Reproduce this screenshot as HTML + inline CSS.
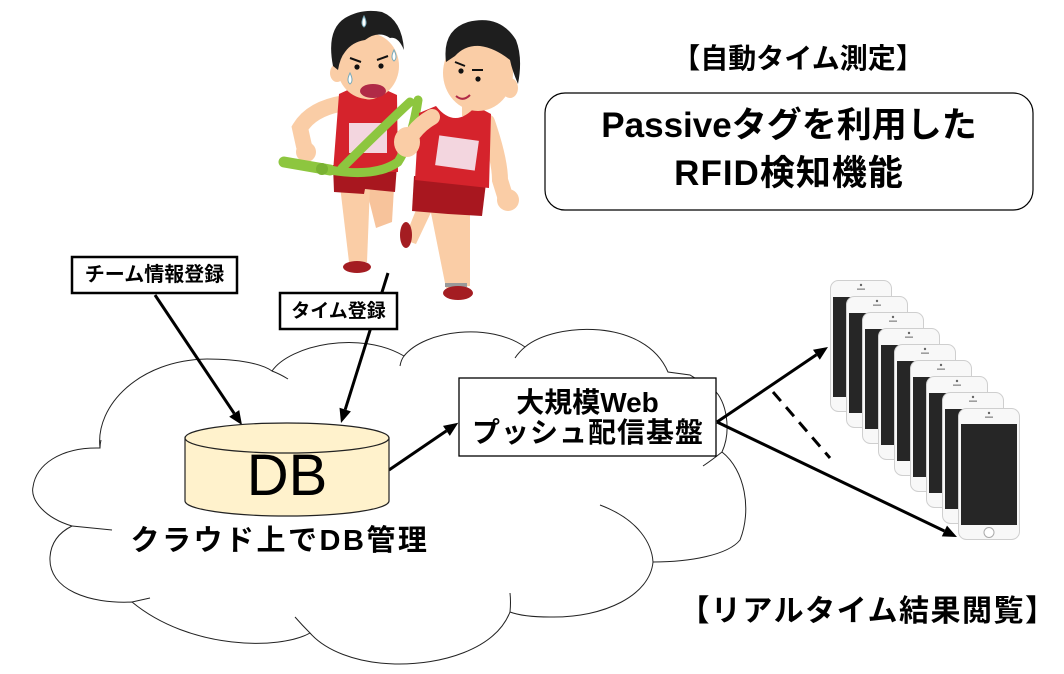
<!DOCTYPE html>
<html><head><meta charset="utf-8"><style>
html,body{margin:0;padding:0;background:#fff;}
svg{display:block;}
text{font-family:"Liberation Sans","Noto Sans CJK JP",sans-serif;font-weight:700;fill:#000;}
</style></head><body>
<svg width="1064" height="674" viewBox="0 0 1064 674" xmlns="http://www.w3.org/2000/svg">
<rect width="1064" height="674" fill="#fff"/>

<!-- Cloud -->
<path d="M100,448 C95,405 140,360 207,359 C240,359 262,364 272,371 C290,345 360,330 404,356 C425,330 490,322 525,347 C555,322 645,318 668,372 L690,375 L714,390 C726,400 732,430 722,452 C745,470 752,510 740,540 C728,555 690,562 653,562 C650,595 605,618 550,617 C532,617 518,615 510,612 C495,650 440,665 395,664 C355,663 325,650 310,633 C280,650 190,650 132,602 C90,604 48,590 50,557 C51,542 60,532 72,526 C45,518 30,500 33,487 C36,465 60,447 100,448 Z" fill="#fff" stroke="#222" stroke-width="1"/>
<g fill="none" stroke="#222" stroke-width="1">
<path d="M272,371 Q280,374 288,379"/>
<path d="M404,356 Q401,360 400,366"/>
<path d="M525,347 Q519,352 515,358"/>
<path d="M72,526 Q92,528 112,530"/>
<path d="M132,602 Q141,600 150,598"/>
<path d="M310,633 Q302,625 295,617"/>
<path d="M510,612 Q511,602 510,593"/>
<path d="M653,562 C652,545 640,520 600,505"/>
<path d="M722,452 Q712,460 703,466"/>
<path d="M100,448 Q100,444 101,440"/>
</g>

<!-- Runners illustration -->
<g>
<!-- left runner -->
<path d="M366,188 L394,188 L392,222 L376,228 Z" fill="#F7C39B"/>
<path d="M340,186 L370,186 L367,262 L349,262 Z" fill="#FACDA6"/>
<ellipse cx="357" cy="267" rx="14" ry="6" fill="#A41D22"/>
<path d="M333,165 L397,165 L395,192 L365,189 L364,194 L334,192 Z" fill="#A8171F"/>
<path d="M345,103 Q312,108 300,128 L304,146" stroke="#FACDA6" stroke-width="16" fill="none" stroke-linecap="round"/>
<circle cx="306" cy="152" r="10" fill="#FACDA6"/>
<rect x="358" y="88" width="20" height="14" fill="#FACDA6"/>
<path d="M339,94 L352,88 Q368,110 386,90 L397,95 L398,172 L333,172 Z" fill="#D5232C"/>
<rect x="349" y="123" width="38" height="30" fill="#F3D6DF"/>
<ellipse cx="337" cy="73" rx="7" ry="9" fill="#FACDA6"/>
<ellipse cx="368" cy="66" rx="31" ry="33" fill="#FACDA6"/>
<path d="M333,66 Q326,30 345,18 Q362,8 382,12 Q402,20 404,50 Q398,36 390,38 Q378,30 365,40 Q352,42 345,52 Q340,58 338,70 Z" fill="#1E1E1E"/>
<circle cx="357" cy="67" r="2.6" fill="#111"/>
<circle cx="381" cy="66" r="2.6" fill="#111"/>
<path d="M350,58 L361,62 M377,60 L388,56" stroke="#111" stroke-width="2"/>
<ellipse cx="373" cy="91" rx="13" ry="7" fill="#B02A47"/>
<path d="M364,16 Q360,24 364,27 Q368,24 364,16 Z" fill="#fff" stroke="#7ab" stroke-width="1"/>
<path d="M394,50 Q390,58 394,61 Q398,58 394,50 Z" fill="#fff" stroke="#7ab" stroke-width="1"/>
<path d="M350,73 Q346,81 350,84 Q354,81 350,73 Z" fill="#fff" stroke="#7ab" stroke-width="1"/>

<!-- green sash -->
<path d="M284,162 L330,170" stroke="#8DC63F" stroke-width="11" fill="none" stroke-linecap="round"/>
<path d="M330,170 Q375,178 398,162 Q412,140 418,100" stroke="#8DC63F" stroke-width="9" fill="none" stroke-linecap="round"/>
<path d="M342,168 Q380,130 410,102" stroke="#8DC63F" stroke-width="9" fill="none" stroke-linecap="round"/>
<circle cx="322" cy="169" r="6" fill="#79B232"/>

<!-- right runner -->
<path d="M420,200 L434,206 L416,244 L404,240 Z" fill="#FACDA6"/>
<ellipse cx="406" cy="235" rx="6" ry="13" fill="#A41D22"/>
<path d="M430,208 L470,208 L470,286 L446,288 Z" fill="#FACDA6"/>
<rect x="445" y="283" width="22" height="4" fill="#999"/>
<ellipse cx="458" cy="293" rx="15" ry="7" fill="#A41D22"/>
<path d="M414,176 L486,183 L482,216 L448,214 L412,211 Z" fill="#A8171F"/>
<path d="M487,122 Q500,160 500,180 L505,196" stroke="#FACDA6" stroke-width="16" fill="none" stroke-linecap="round"/>
<circle cx="508" cy="200" r="11" fill="#FACDA6"/>
<rect x="462" y="102" width="20" height="14" fill="#FACDA6"/>
<path d="M419,113 L436,106 Q455,130 476,106 L491,114 L489,188 L415,180 Z" fill="#D5232C"/>
<rect x="437" y="138" width="40" height="30" fill="#F3D6DF" transform="rotate(8 457 153)"/>
<ellipse cx="510" cy="88" rx="8" ry="10" fill="#FACDA6"/>
<ellipse cx="478" cy="73" rx="35" ry="38" fill="#FACDA6"/>
<path d="M446,62 Q442,30 468,22 Q500,14 516,40 Q523,58 518,84 Q512,70 510,60 Q495,48 480,46 Q465,45 455,56 Z" fill="#1E1E1E"/>
<circle cx="461" cy="71" r="2.6" fill="#111"/>
<circle cx="478" cy="79" r="2.6" fill="#111"/>
<path d="M455,62 L465,66 M472,70 L483,70" stroke="#111" stroke-width="2"/>
<path d="M456,96 Q463,102 470,95" stroke="#B02A47" stroke-width="2" fill="none"/>
<path d="M432,117 Q418,125 410,138" stroke="#FACDA6" stroke-width="16" fill="none" stroke-linecap="round"/>
<ellipse cx="407" cy="142" rx="13" ry="15" fill="#FACDA6"/>
</g>

<!-- Arrows -->
<g stroke="#000" stroke-width="3" fill="none">
<line x1="155" y1="295" x2="234.2" y2="413.4"/>
<line x1="388" y1="273" x2="345.2" y2="409.6"/>
<line x1="389" y1="470" x2="446.4" y2="430.9"/>
<line x1="717" y1="422" x2="816.4" y2="354.8"/>
<line x1="717" y1="422" x2="944.4" y2="531.0"/>
</g>
<g fill="#000">
<polygon points="242,425 229.2,416.7 239.2,410.1"/>
<polygon points="341,423 339.5,407.8 350.9,411.4"/>
<polygon points="458.3,422.7 449.8,435.9 443.0,425.9"/>
<polygon points="828,347 819.8,359.8 813.0,349.8"/>
<polygon points="957,537 941.8,536.4 947.0,525.6"/>
</g>
<line x1="773" y1="392" x2="830" y2="458" stroke="#000" stroke-width="3" stroke-dasharray="12,8"/>

<!-- Label boxes -->
<rect x="72" y="257" width="165" height="36" fill="#fff" stroke="#000" stroke-width="2.5"/>
<text x="154.5" y="281" font-size="20" text-anchor="middle">チーム情報登録</text>
<rect x="280" y="293" width="117" height="36" fill="#fff" stroke="#000" stroke-width="2.5"/>
<text x="338.5" y="317" font-size="19" text-anchor="middle">タイム登録</text>

<!-- DB cylinder -->
<path d="M185,438 L185,501 A102,15 0 0 0 389,501 L389,438 Z" fill="#FFF2CC" stroke="#222" stroke-width="1.2"/>
<ellipse cx="287" cy="438" rx="102" ry="15" fill="#FFF2CC" stroke="#222" stroke-width="1.2"/>
<text x="287" y="495" font-size="58" text-anchor="middle" style="font-weight:400">DB</text>
<text x="280" y="550" font-size="29" text-anchor="middle" style="letter-spacing:2.5px">クラウド上でDB管理</text>

<!-- Web push box -->
<rect x="459" y="378" width="257" height="78" fill="#fff" stroke="#000" stroke-width="1.3"/>
<text x="587.5" y="412" font-size="28" text-anchor="middle">大規模Web</text>
<text x="588" y="442" font-size="28" text-anchor="middle" style="letter-spacing:1px">プッシュ配信基盤</text>

<!-- Top right -->
<text x="798" y="68" font-size="28" text-anchor="middle">【自動タイム測定】</text>
<rect x="545" y="93" width="488" height="117" rx="20" ry="20" fill="#fff" stroke="#000" stroke-width="1.2"/>
<text x="789" y="137" font-size="35" text-anchor="middle">Passiveタグを利用した</text>
<text x="789" y="185" font-size="35" text-anchor="middle" style="letter-spacing:1px">RFID検知機能</text>

<!-- Phones -->
<g>
<g transform="translate(830,280)"><rect x="0.5" y="0.5" width="61" height="131" rx="8" fill="#f8f8f8" stroke="#cfcfcf"/><rect x="3" y="17" width="56" height="100" fill="#262626"/><circle cx="31" cy="5" r="1.2" fill="#666"/><rect x="27" y="8.5" width="8" height="1.3" fill="#888"/></g>
<g transform="translate(846,296)"><rect x="0.5" y="0.5" width="61" height="131" rx="8" fill="#f8f8f8" stroke="#cfcfcf"/><rect x="3" y="17" width="56" height="100" fill="#262626"/><circle cx="31" cy="5" r="1.2" fill="#666"/><rect x="27" y="8.5" width="8" height="1.3" fill="#888"/></g>
<g transform="translate(862,312)"><rect x="0.5" y="0.5" width="61" height="131" rx="8" fill="#f8f8f8" stroke="#cfcfcf"/><rect x="3" y="17" width="56" height="100" fill="#262626"/><circle cx="31" cy="5" r="1.2" fill="#666"/><rect x="27" y="8.5" width="8" height="1.3" fill="#888"/></g>
<g transform="translate(878,328)"><rect x="0.5" y="0.5" width="61" height="131" rx="8" fill="#f8f8f8" stroke="#cfcfcf"/><rect x="3" y="17" width="56" height="100" fill="#262626"/><circle cx="31" cy="5" r="1.2" fill="#666"/><rect x="27" y="8.5" width="8" height="1.3" fill="#888"/></g>
<g transform="translate(894,344)"><rect x="0.5" y="0.5" width="61" height="131" rx="8" fill="#f8f8f8" stroke="#cfcfcf"/><rect x="3" y="17" width="56" height="100" fill="#262626"/><circle cx="31" cy="5" r="1.2" fill="#666"/><rect x="27" y="8.5" width="8" height="1.3" fill="#888"/></g>
<g transform="translate(910,360)"><rect x="0.5" y="0.5" width="61" height="131" rx="8" fill="#f8f8f8" stroke="#cfcfcf"/><rect x="3" y="17" width="56" height="100" fill="#262626"/><circle cx="31" cy="5" r="1.2" fill="#666"/><rect x="27" y="8.5" width="8" height="1.3" fill="#888"/></g>
<g transform="translate(926,376)"><rect x="0.5" y="0.5" width="61" height="131" rx="8" fill="#f8f8f8" stroke="#cfcfcf"/><rect x="3" y="17" width="56" height="100" fill="#262626"/><circle cx="31" cy="5" r="1.2" fill="#666"/><rect x="27" y="8.5" width="8" height="1.3" fill="#888"/></g>
<g transform="translate(942,392)"><rect x="0.5" y="0.5" width="61" height="131" rx="8" fill="#f8f8f8" stroke="#cfcfcf"/><rect x="3" y="17" width="56" height="100" fill="#262626"/><circle cx="31" cy="5" r="1.2" fill="#666"/><rect x="27" y="8.5" width="8" height="1.3" fill="#888"/></g>
<g transform="translate(958,408)"><rect x="0.5" y="0.5" width="61" height="131" rx="8" fill="#f8f8f8" stroke="#cfcfcf"/><rect x="3" y="16" width="56" height="101" fill="#262626"/><circle cx="31" cy="5" r="1.2" fill="#666"/><rect x="27" y="8.5" width="8" height="1.3" fill="#888"/><circle cx="31" cy="124.5" r="5" fill="#fff" stroke="#aaa" stroke-width="1"/></g>
</g>

<text x="868" y="621" font-size="30" text-anchor="middle" style="letter-spacing:1.5px">【リアルタイム結果閲覧】</text>
</svg>
</body></html>
